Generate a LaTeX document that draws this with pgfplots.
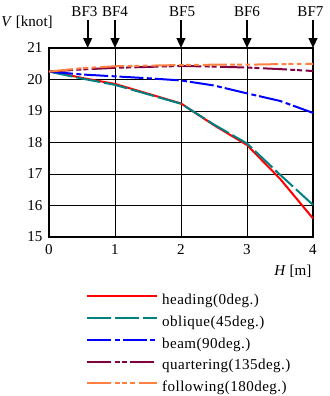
\documentclass[border=0pt]{standalone}
\usepackage{fontspec}
\setmainfont{Liberation Serif}
\newfontfamily\legfont[LetterSpace=3]{Liberation Serif}
\usepackage{pgfplots}
\pgfplotsset{compat=1.18}
\usetikzlibrary{arrows.meta}
\definecolor{cteal}{RGB}{0,128,128}
\definecolor{cpurple}{RGB}{128,0,64}
\definecolor{corange}{RGB}{255,128,64}
\newcommand{\bfarrow}[3]{%
  \draw[line width=1.5pt, -{Triangle[length=7.5pt,width=6.5pt]}] ([yshift=21pt]axis cs:#1,21) -- (axis cs:#1,21);
  \node[anchor=base, inner sep=0pt] at ([xshift=#3,yshift=24pt]axis cs:#1,21) {#2};}
\begin{document}
\fontsize{11.3}{13}\selectfont
\begin{tikzpicture}
\begin{axis}[
  at={(0,0)}, anchor=south west,
  scale only axis, width=198pt, height=141.75pt,
  xmin=0, xmax=4, ymin=15, ymax=21,
  xtick={0,1,2,3,4}, ytick={15,16,17,18,19,20,21},
  grid=major, major grid style={black, line width=0.75pt},
  axis line style={black, line width=1.5pt},
  tick style={draw=none},
  /pgf/number format/assume math mode=true,
  ticklabel style={font=\fontsize{11.3}{13}\selectfont},
  xticklabel style={yshift=-2pt},
  yticklabel style={xshift=-1pt},
  clip=false,
  legend cell align=left,
  legend style={draw=none, fill=none, at={(axis description cs:0.140,-0.302)}, anchor=north west,
    inner sep=0pt, row sep=6.75pt, font=\fontsize{11.3}{13}\legfont,
    nodes={inner sep=0pt}, /tikz/every odd column/.style={column sep=0pt}},
  legend image code/.code={\draw[#1] (0pt,3.2pt) -- (52.5pt,3.2pt); \path (55.5pt,3.2pt);},
]
\addplot[red, line width=1.5pt, solid] coordinates {(0,20.27) (0.5,20.05) (1,19.86) (1.5,19.55) (2,19.24) (2.5,18.55) (3,17.92) (3.5,16.85) (4,15.59)};
\addlegendentry{heading(0deg.)}
\addplot[cteal, line width=1.5pt, dash pattern=on 18pt off 3pt] coordinates {(0,20.25) (0.5,20.03) (1,19.83) (1.5,19.53) (2,19.23) (2.5,18.57) (3,17.97) (3.5,16.98) (4,16.02)};
\addlegendentry{oblique(45deg.)}
\addplot[blue, line width=1.5pt, dash pattern=on 18pt off 2.6pt on 3.7pt off 2.2pt] coordinates {(0,20.25) (0.5,20.16) (1,20.1) (1.5,20.04) (2,19.97) (2.5,19.81) (3,19.56) (3.5,19.32) (4,18.94)};
\addlegendentry{beam(90deg.)}
\addplot[cpurple, line width=1.5pt, dash pattern=on 18pt off 2.6pt on 3.7pt off 1.5pt on 3.7pt off 2.6pt] coordinates {(0,20.25) (0.5,20.32) (1,20.37) (1.5,20.4) (2,20.43) (2.5,20.41) (3,20.38) (3.5,20.33) (4,20.27)};
\addlegendentry{quartering(135deg.)}
\addplot[corange, line width=1.5pt, dash pattern=on 18pt off 2.6pt on 3.7pt off 1.5pt on 3.7pt off 2.6pt on 3.4pt off 3pt] coordinates {(0,20.25) (0.5,20.36) (1,20.42) (1.5,20.44) (2,20.46) (2.5,20.47) (3,20.47) (3.5,20.49) (4,20.5)};
\addlegendentry{following(180deg.)}
\bfarrow{0.586}{BF3}{-2.4pt}
\bfarrow{1}{BF4}{0pt}
\bfarrow{2}{BF5}{0.8pt}
\bfarrow{3}{BF6}{0pt}
\bfarrow{4}{BF7}{-1.9pt}
\node[anchor=base east, inner sep=0pt] at ([xshift=3pt,yshift=16.5pt]axis cs:0,21) {\textit{V} [knot]};
\node[anchor=base east, inner sep=0pt] at ([xshift=-1pt,yshift=-29pt]axis cs:4,15) {\textit{H} [m]};
\end{axis}
\pgfresetboundingbox
\path[use as bounding box] (-36.75pt,-119.25pt) rectangle (210pt,177.75pt);
\end{tikzpicture}
\end{document}
